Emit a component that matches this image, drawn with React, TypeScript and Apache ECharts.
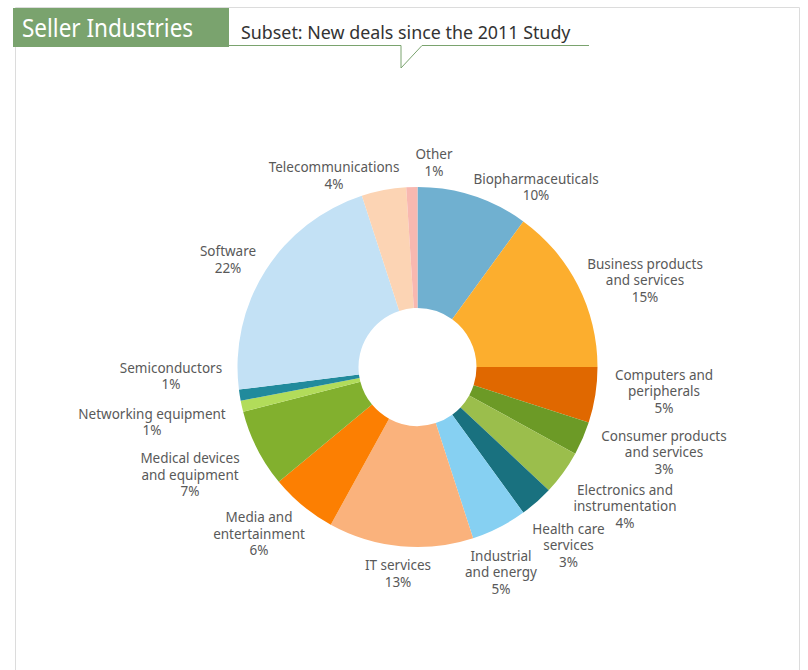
import React, { useEffect, useRef } from "react";
import * as echarts from "echarts";

const CATEGORIES = [
  "Biopharmaceuticals",
  "Business products\nand services",
  "Computers and\nperipherals",
  "Consumer products\nand services",
  "Electronics and\ninstrumentation",
  "Health care\nservices",
  "Industrial\nand energy",
  "IT services",
  "Media and\nentertainment",
  "Medical devices\nand equipment",
  "Networking equipment",
  "Semiconductors",
  "Software",
  "Telecommunications",
  "Other",
];

const VALUES = [10, 15, 5, 3, 4, 3, 5, 13, 6, 7, 1, 1, 22, 4, 1];

const COLORS = [
  "#70B0D0",
  "#FCAE2E",
  "#E06800",
  "#6C9A26",
  "#9BBE4C",
  "#19717F",
  "#86D0F2",
  "#FAB27C",
  "#FC7F02",
  "#82B02E",
  "#B2DC5A",
  "#218A9C",
  "#C3E1F5",
  "#FCD4B4",
  "#F8B8B0",
];

const TITLE = "Seller Industries";
const SUBTITLE = "Subset: New deals since the 2011 Study";

// label anchor offsets from pie centre (layout, not data)
const LABEL_OFFSETS: [number, number][] = [
  [118.5, -180],
  [227.5, -87],
  [246.5, 24],
  [246.5, 85],
  [207.5, 139],
  [151, 178],
  [83.5, 205],
  [-19.5, 206.5],
  [-158.5, 166.5],
  [-227.5, 107.5],
  [-265.5, 55],
  [-246.5, 9],
  [-189.5, -107.5],
  [-83.5, -191.5],
  [16.5, -204.5],
];

const CX = 417.5;
const CY = 367;

export default function App() {
  const ref = useRef<HTMLDivElement>(null);
  useEffect(() => {
    if (!ref.current) return;
    const chart = echarts.init(ref.current, null, { renderer: "svg" });
    const green = "#7AA36E";
    chart.setOption({
      animation: false,
      backgroundColor: "#ffffff",
      graphic: [
        {
          type: "rect",
          shape: { x: 15.5, y: 7.5, width: 784, height: 700 },
          style: { fill: "none", stroke: "#DCDCDC", lineWidth: 1 },
          silent: true,
        },
        {
          type: "rect",
          shape: { x: 13, y: 8, width: 216, height: 39 },
          style: { fill: green },
          silent: true,
        },
        {
          type: "text",
          x: 22,
          y: 28,
          scaleX: 0.9,
          style: {
            text: TITLE,
            fill: "#ffffff",
            font: "25px 'Noto Sans'",
            verticalAlign: "middle",
            align: "left",
          },
          silent: true,
        },
        {
          type: "text",
          x: 241,
          y: 31,
          scaleX: 0.94,
          style: {
            text: SUBTITLE,
            fill: "#333333",
            font: "19px 'Noto Sans'",
            verticalAlign: "middle",
            align: "left",
          },
          silent: true,
        },
        {
          type: "polyline",
          shape: {
            points: [
              [229, 45.5],
              [401, 45.5],
              [401, 68],
              [422, 45.5],
              [589, 45.5],
            ],
          },
          style: { stroke: green, lineWidth: 1, fill: "none" },
          silent: true,
        },
      ],
      series: [
        {
          type: "pie",
          center: [CX, CY],
          radius: [59, 180],
          startAngle: 90,
          clockwise: true,
          avoidLabelOverlap: false,
          itemStyle: { borderWidth: 0 },
          labelLine: { show: false },
          label: {
            show: true,
            position: "outside",
            color: "#595959",
            fontFamily: "Noto Sans",
            fontSize: 13.5,
            lineHeight: 16.5,
            align: "center",
            formatter: (p: any) => `${p.name}\n${p.value}%`,
          },
          labelLayout: (params: any) => {
            const o = LABEL_OFFSETS[params.dataIndex];
            return {
              x: CX + o[0],
              y: CY + o[1],
              align: "center",
              verticalAlign: "middle",
            };
          },
          emphasis: { disabled: true },
          data: CATEGORIES.map((name, i) => ({
            name,
            value: VALUES[i],
            itemStyle: { color: COLORS[i] },
          })),
        },
      ],
    });
    return () => chart.dispose();
  }, []);
  return (
    <div
      ref={ref}
      style={{ position: "absolute", left: 0, top: 0, width: 808, height: 670 }}
    />
  );
}
